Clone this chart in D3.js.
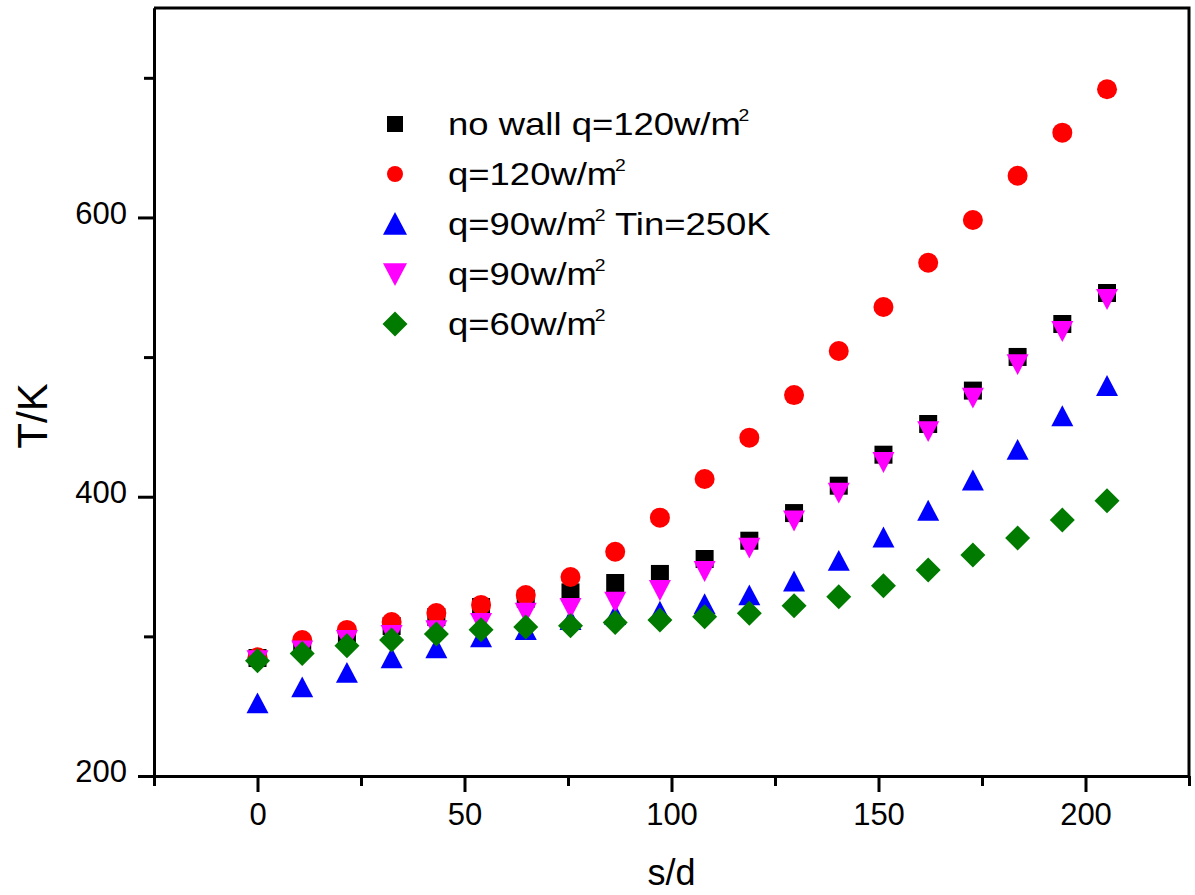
<!DOCTYPE html>
<html>
<head>
<meta charset="utf-8">
<script src="https://cdn.jsdelivr.net/npm/d3@7"></script>
<style>
  html, body { margin: 0; padding: 0; background: #fff; }
  svg { display: block; }
  text { font-family: "Liberation Sans", Arial, sans-serif; fill: #000; }
</style>
</head>
<body>
<svg id="chart" width="1195" height="895"></svg>
<script>
// s/d positions shared by every series
const sd = [0, 10.8, 21.6, 32.4, 43.2, 54, 64.8, 75.6, 86.4, 97.2, 108, 118.8, 129.6, 140.4, 151.2, 162, 172.8, 183.6, 194.4, 205.2];

// Temperature T/K for each case
const noWall120 = [284.5, 293, 300, 307.4, 313.9, 321, 327, 331.5, 338.2, 344.7, 355.4, 368.5, 388.3, 407.9, 430.1, 452.1, 476.0, 500.1, 523.7, 545.9];
const q120      = [285, 297.4, 304.6, 310.3, 316.7, 322.5, 329.6, 342.5, 360.6, 385, 412.7, 442.3, 472.8, 504.4, 535.9, 567.6, 598.2, 629.9, 660.7, 691.8];
const q90Tin250 = [252, 263.4, 273.8, 284.3, 291.4, 299.3, 304.5, 311.7, 315.3, 317.6, 323, 329.3, 339.3, 354, 370.8, 389.9, 411.6, 433.5, 457.6, 479.3];
const q90       = [283, 290, 297.4, 301, 304.5, 309.6, 317, 320.3, 324.8, 333.2, 346.8, 363.6, 383, 403, 424.9, 447, 471, 495, 518.7, 541.6];
const q60       = [282.5, 287.8, 293.2, 297.4, 301.7, 304.8, 306.7, 307.6, 310, 311.7, 314.1, 316.5, 321.9, 328.3, 336.2, 347.5, 358.3, 370.4, 383.3, 397.1];

// Legend labels: [main text, text after the superscript]
const legendLabels = [
  ["no wall q=120w/m", ""],
  ["q=120w/m", ""],
  ["q=90w/m", " Tin=250K"],
  ["q=90w/m", ""],
  ["q=60w/m", ""]
];

// Axis ticks
const xMajor = [0, 50, 100, 150, 200];
const xMinor = [-25, 25, 75, 125, 175, 225];
const yMajor = [200, 400, 600];
const yMinor = [300, 500, 700];

// Marker shapes sized by their full width (size = width^2)
const shapes = {
  square: { draw(ctx, s) { const r = Math.sqrt(s) / 2; ctx.rect(-r, -r, 2 * r, 2 * r); } },
  circle: { draw(ctx, s) { const r = Math.sqrt(s) / 2; ctx.moveTo(r, 0); ctx.arc(0, 0, r, 0, 2 * Math.PI); } },
  up:     { draw(ctx, s) { const r = Math.sqrt(s) / 2; ctx.moveTo(0, -r); ctx.lineTo(r, r * 0.9); ctx.lineTo(-r, r * 0.9); ctx.closePath(); } },
  down:   { draw(ctx, s) { const r = Math.sqrt(s) / 2; ctx.moveTo(0, r); ctx.lineTo(r, -r * 0.9); ctx.lineTo(-r, -r * 0.9); ctx.closePath(); } },
  diamond:{ draw(ctx, s) { const r = Math.sqrt(s) / 2; ctx.moveTo(0, -r); ctx.lineTo(r, 0); ctx.lineTo(0, r); ctx.lineTo(-r, 0); ctx.closePath(); } }
};

const series = [
  { values: noWall120, color: "#000000", shape: shapes.square,  w: 18, lw: 16 },
  { values: q120,      color: "#ff0000", shape: shapes.circle,  w: 20, lw: 16 },
  { values: q90Tin250, color: "#0000ff", shape: shapes.up,      w: 22, lw: 24 },
  { values: q90,       color: "#ff00ff", shape: shapes.down,    w: 22, lw: 24 },
  { values: q60,       color: "#007b00", shape: shapes.diamond, w: 25, lw: 25 }
];

const svg = d3.select("#chart");
const plotL = 154, plotR = 1189, plotT = 8, plotB = 776;

const x = d3.scaleLinear().domain([-25, 225]).range([plotL, plotR]);
const y = d3.scaleLinear().domain([200, 750]).range([plotB, plotT]);

// Frame (top and right edges)
svg.append("path")
  .attr("d", `M${plotL},${plotT}H${plotR}V${plotB}`)
  .attr("fill", "none").attr("stroke", "#000").attr("stroke-width", 3);

// Axes
function styleAxis(g) {
  g.select(".domain").attr("stroke-width", 3);
  g.selectAll(".tick line").attr("stroke-width", 3);
  g.selectAll(".tick text")
    .style("font-family", '"Liberation Sans", Arial, sans-serif')
    .style("font-size", "31px").attr("fill", "#000");
}

svg.append("g").attr("transform", `translate(0,${plotB})`)
  .call(d3.axisBottom(x).tickValues(xMinor).tickSize(10).tickSizeOuter(0).tickFormat(""))
  .call(styleAxis);
svg.append("g").attr("transform", `translate(0,${plotB})`)
  .call(d3.axisBottom(x).tickValues(xMajor).tickSize(16).tickSizeOuter(0).tickPadding(11).tickFormat(d3.format("d")))
  .call(styleAxis);

svg.append("g").attr("transform", `translate(${plotL},0)`)
  .call(d3.axisLeft(y).tickValues(yMinor).tickSize(10).tickSizeOuter(0).tickFormat(""))
  .call(styleAxis);
const yAxis = svg.append("g").attr("transform", `translate(${plotL},0)`)
  .call(d3.axisLeft(y).tickValues(yMajor).tickSize(16).tickSizeOuter(0).tickPadding(11).tickFormat(d3.format("d")))
  .call(styleAxis);
yAxis.selectAll(".tick text").attr("dy", "0.18em");

// Axis titles
svg.append("text")
  .attr("x", (plotL + plotR) / 2).attr("y", 885)
  .attr("text-anchor", "middle").style("font-size", "36px")
  .text("s/d");
svg.append("text")
  .attr("transform", `translate(47,416) rotate(-90)`)
  .attr("text-anchor", "middle").style("font-size", "42px")
  .text("T/K");

// Data markers
const sym = d3.symbol();
series.forEach(s => {
  svg.append("g").selectAll("path")
    .data(s.values.map((v, i) => [sd[i], v]))
    .join("path")
    .attr("transform", d => `translate(${x(d[0])},${y(d[1])})`)
    .attr("d", sym.type(s.shape).size(s.w * s.w)())
    .attr("fill", s.color);
});

// Legend: symbol column, then a slightly widened label
const legend = svg.append("g");
series.forEach((s, i) => {
  const cy = 124 + i * 50;
  legend.append("path")
    .attr("transform", `translate(395,${cy})`)
    .attr("d", sym.type(s.shape).size(s.lw * s.lw)())
    .attr("fill", s.color);
  const t = legend.append("text")
    .attr("transform", `translate(448,${cy + 11}) scale(1.14,1)`)
    .style("font-size", "32px");
  t.append("tspan").text(legendLabels[i][0]);
  t.append("tspan").attr("dx", -2).attr("dy", -14).style("font-size", "17px").text("2");
  if (legendLabels[i][1]) {
    t.append("tspan").attr("dy", 14).style("font-size", "32px").text(legendLabels[i][1]);
  }
});
</script>
</body>
</html>
